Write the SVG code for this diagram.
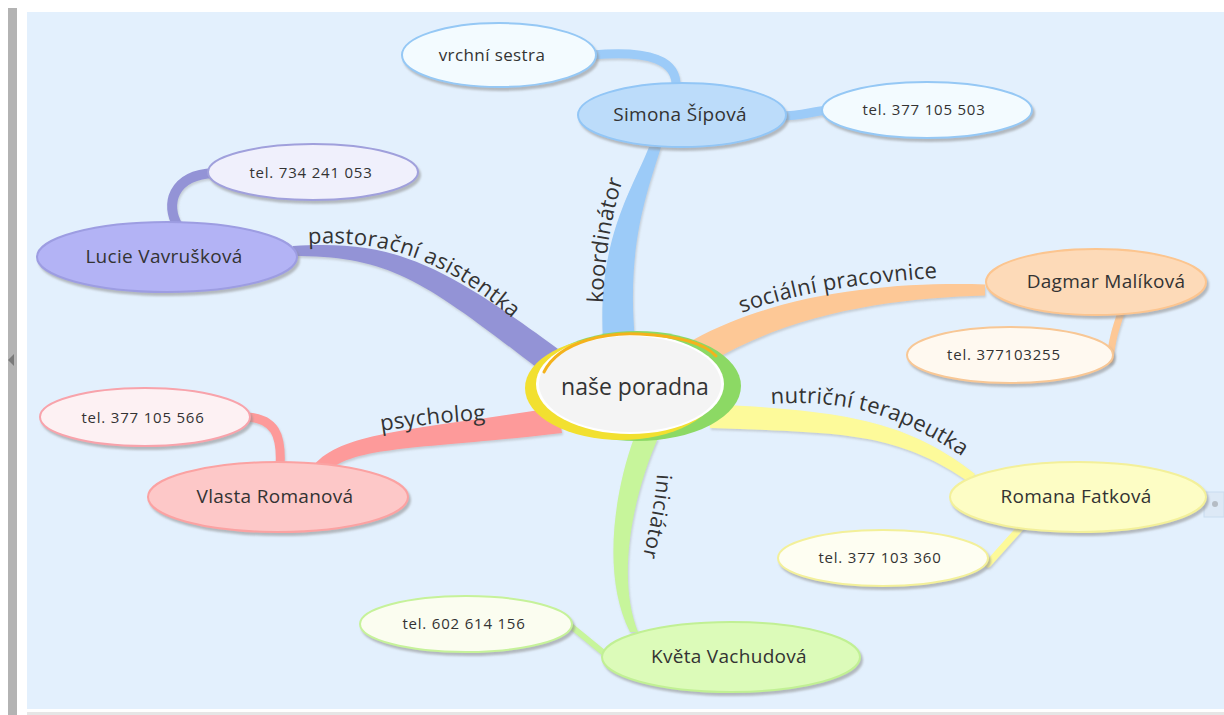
<svg xmlns="http://www.w3.org/2000/svg" width="1224" height="715" viewBox="0 0 1224 715">
<defs>
<filter id="sh" x="-10%" y="-10%" width="125%" height="135%">
<feDropShadow dx="2" dy="3" stdDeviation="1.2" flood-color="#8a8a8a" flood-opacity="0.55"/>
</filter>
<filter id="shb" x="-10%" y="-10%" width="125%" height="135%">
<feDropShadow dx="1" dy="2" stdDeviation="1" flood-color="#8a8a8a" flood-opacity="0.35"/>
</filter>
<path id="p-past" d="M308,244 C390,239 452,262 530,334"/>
<path id="p-soc" d="M742,313 C790,295 852,283 950,277"/>
<path id="p-nut" d="M771,404 C842,399 904,412 984,472"/>
<path id="p-psy" d="M381,431 C420,425 452,421 492,420"/>
<path id="p-koo" d="M603,303 C605,250 613,200 632,156"/>
<path id="p-ini" d="M657,474 C655,510 646,540 638,580"/>
</defs>
<style>
text{font-family:"Open Sans","Liberation Sans",sans-serif;fill:#333;}
.n{font-size:19px;letter-spacing:0.3px;text-anchor:middle;}
.t{font-size:15px;letter-spacing:0.8px;text-anchor:middle;}
.l{font-size:22px;letter-spacing:0.3px;}
.e{stroke-width:2;filter:url(#sh);}
.sub{fill:none;stroke-linecap:round;}
</style>
<rect x="0" y="0" width="1224" height="715" fill="#ffffff"/>
<rect x="27" y="12" width="1197" height="697" fill="#e3f0fd"/>
<rect x="8" y="8" width="9" height="707" fill="#b3b3b3"/>
<polygon points="8,360 14,354 14,366" fill="#7a7a7a"/>
<rect x="27" y="712" width="1197" height="3" fill="#e6e6e6"/>
<rect x="1204" y="492" width="20" height="25" fill="#dde9f6" stroke="#c9dcef" stroke-width="1"/>
<circle cx="1215" cy="504" r="3" fill="#b5bcc4"/>

<g id="connectors">
<g filter="url(#shb)">
<path d="M649,147 C632,190 597,240 603,340 L635,340 C626,245 648,190 661,147 Z" fill="#9ccbf8"/>
<path d="M293,246 C390,240 437,260 558,349 L541,371 C423,280 390,256 293,256 Z" fill="#9393d6"/>
<path d="M985,284.5 C900,282 784,290 693,340 L707,364 C796,310 900,298 985,295.5 Z" fill="#fdc896"/>
<path d="M975,474 C905,419 840,411 710,404 L710,428 C840,433 895,431 969,482 Z" fill="#fdfa9a"/>
<path d="M630,632 C601,575 615,490 634,438 L658,438 C635,490 615,575 638,632 Z" fill="#c7f59b"/>
<path d="M312,468 C338,431 420,430 558,407 L562,433 C420,450 348,445 324,476 Z" fill="#fd9a9a"/>
<path class="sub" d="M592,55 C650,50 678,60 676,88" stroke="#9ccbf8" stroke-width="9"/>
<path class="sub" d="M780,116 C800,116 810,112 828,110" stroke="#9ccbf8" stroke-width="9"/>
<path class="sub" d="M178,226 C165,205 172,175 214,173" stroke="#9393d6" stroke-width="10"/>
<path class="sub" d="M1122,310 C1115,330 1112,340 1110,360" stroke="#fdc896" stroke-width="7"/>
<path class="sub" d="M1022,526 L988,564" stroke="#fdfa9a" stroke-width="7"/>
<path class="sub" d="M566,622 L610,658" stroke="#c7f59b" stroke-width="6"/>
<path class="sub" d="M246,417 C275,418 282,435 280,467" stroke="#fd9a9a" stroke-width="9"/>
</g>
<text class="l"><textPath href="#p-past">pastorační asistentka</textPath></text>
<text class="l"><textPath href="#p-soc">sociální pracovnice</textPath></text>
<text class="l"><textPath href="#p-nut">nutriční terapeutka</textPath></text>
<text class="l"><textPath href="#p-psy">psycholog</textPath></text>
<text class="l"><textPath href="#p-koo">koordinátor</textPath></text>
<text class="l" style="font-size:21px;letter-spacing:0.6px"><textPath href="#p-ini">iniciátor</textPath></text>
</g>

<g id="center">
<ellipse cx="637" cy="386" rx="104" ry="55" fill="#8cd964"/>
<ellipse cx="621" cy="388" rx="96" ry="52" fill="#f2e030"/>
<ellipse cx="630" cy="384" rx="94" ry="50" fill="#ffffff"/>
<ellipse cx="630" cy="384" rx="91" ry="48" fill="#f4f4f4"/>
<path d="M544,372 C560,340 610,332 640,334 C680,336 705,344 716,356" fill="none" stroke="#f4b21c" stroke-width="3" stroke-linecap="round"/>
<text x="635" y="395" style="font-size:23px;text-anchor:middle">naše poradna</text>
</g>

<g id="simona">
<ellipse class="e" cx="682" cy="115" rx="104" ry="32" fill="#bcdcfa" stroke="#92c6f6"/>
<text class="n" x="680" y="121">Simona Šípová</text>
</g>
<g id="vrchni">
<ellipse class="e" cx="499" cy="55" rx="97" ry="32" fill="#f3fbff" stroke="#95c8f5"/>
<text class="n" x="492" y="61" style="font-size:17px;letter-spacing:0.4px">vrchní sestra</text>
</g>
<g id="tel503">
<ellipse class="e" cx="927" cy="110" rx="105" ry="28" fill="#f3fbff" stroke="#95c8f5"/>
<text class="t" x="924" y="115">tel. 377 105 503</text>
</g>

<g id="lucie">
<ellipse class="e" cx="167" cy="257" rx="130" ry="35" fill="#b3b3f5" stroke="#9d9de2"/>
<text class="n" x="164" y="263">Lucie Vavrušková</text>
</g>
<g id="tel734">
<ellipse class="e" cx="313" cy="172" rx="105" ry="28" fill="#f0f0fc" stroke="#a0a0dc"/>
<text class="t" x="311" y="178">tel. 734 241 053</text>
</g>

<g id="dagmar">
<ellipse class="e" cx="1096" cy="282" rx="110" ry="33" fill="#fddab8" stroke="#fcc58f"/>
<text class="n" x="1106" y="288">Dagmar Malíková</text>
</g>
<g id="tel255">
<ellipse class="e" cx="1010" cy="355" rx="103" ry="28" fill="#fff9f0" stroke="#f8c795"/>
<text class="t" x="1004" y="360">tel. 377103255</text>
</g>

<g id="romana">
<ellipse class="e" cx="1078" cy="497" rx="128" ry="35" fill="#fdfdc5" stroke="#f3f09a"/>
<text class="n" x="1076" y="503">Romana Fatková</text>
</g>
<g id="tel360">
<ellipse class="e" cx="883" cy="558" rx="105" ry="28" fill="#fefef2" stroke="#f3f09a"/>
<text class="t" x="880" y="563">tel. 377 103 360</text>
</g>

<g id="kveta">
<ellipse class="e" cx="731" cy="657" rx="129" ry="35" fill="#dcfbb9" stroke="#c1f094"/>
<text class="n" x="729" y="663">Květa Vachudová</text>
</g>
<g id="tel156">
<ellipse class="e" cx="466" cy="624" rx="106" ry="28" fill="#fbfdf0" stroke="#c6f29a"/>
<text class="t" x="464" y="629">tel. 602 614 156</text>
</g>

<g id="vlasta">
<ellipse class="e" cx="278" cy="497" rx="130" ry="35" fill="#fdc8c8" stroke="#fba2a2"/>
<text class="n" x="275" y="503">Vlasta Romanová</text>
</g>
<g id="tel566">
<ellipse class="e" cx="145" cy="417" rx="105" ry="29" fill="#fdf1f3" stroke="#f8a3ab"/>
<text class="t" x="143" y="423">tel. 377 105 566</text>
</g>
</svg>
